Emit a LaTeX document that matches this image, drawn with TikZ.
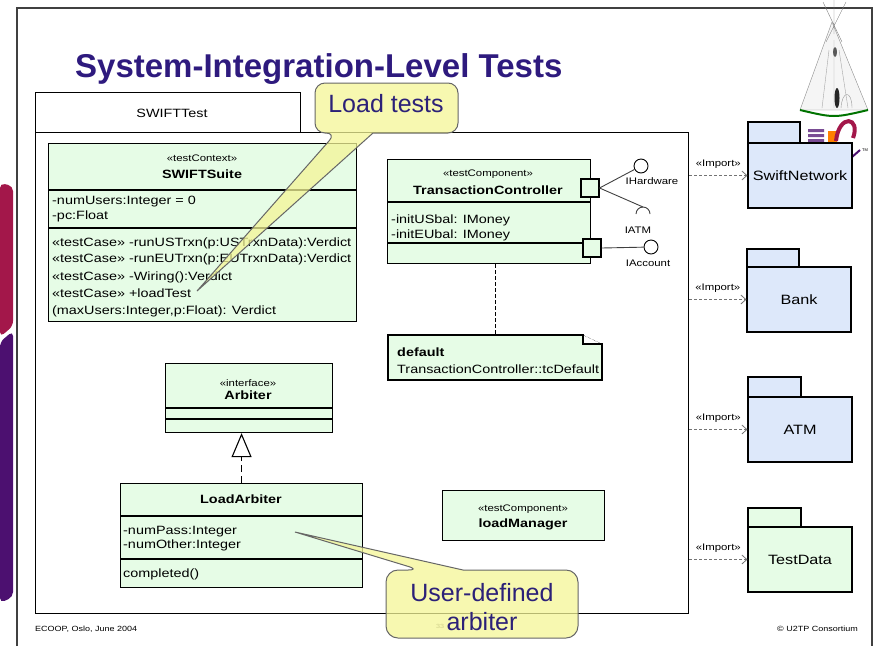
\documentclass[tikz,border=0pt]{standalone}
\usepackage{fontspec}
\setmainfont{Liberation Sans}
\newfontfamily\umlfont[FakeStretch=1.2]{Liberation Sans}
\usepackage{tikz}
\usetikzlibrary{positioning, calc, arrows.meta}

\definecolor{titleblue}{HTML}{2E1A7E}
\definecolor{classgreen}{HTML}{E6FCE6}
\definecolor{pkgblue}{HTML}{DDE8FA}
\definecolor{noteyellow}{HTML}{F4F596}
\definecolor{calloutink}{HTML}{2C2178}
\definecolor{logored}{HTML}{A3174A}
\definecolor{logopurple}{HTML}{4C1070}

\tikzset{
  umlbox/.style={draw, line width=1.1pt, fill=classgreen, inner sep=0pt, anchor=north west},
  umltext/.style={font=\umlfont\fontsize{12}{14}\selectfont, inner sep=0pt},
  umlbold/.style={font=\umlfont\bfseries\fontsize{12}{14}\selectfont, inner sep=0pt},
  stereo/.style={font=\umlfont\fontsize{9.5}{11}\selectfont, inner sep=0pt},
  pkgbox/.style={draw, line width=1.1pt, minimum width=104, minimum height=65, inner sep=0pt,
    font=\umlfont\fontsize{13.5}{15}\selectfont},
  import/.style={densely dashed, draw=black!55, line width=0.8pt, -{Straight Barb[length=5pt,width=9pt]}},
  callout/.style={draw=black!60, line width=1pt, fill=noteyellow, fill opacity=0.75},
  bigtext/.style={text=calloutink, font=\fontsize{25}{28}\selectfont, inner sep=0pt},
  portbox/.style={draw, line width=1.1pt, fill=classgreen, minimum size=18, inner sep=0pt},
  iface/.style={circle, draw, line width=0.9pt, fill=white, minimum size=14, inner sep=0pt},
}

\begin{document}
\begin{tikzpicture}[x=1pt, y=-1pt]
  \useasboundingbox (0,0) rectangle (874,646);

  % Side logo strip
  \fill[logored, rounded corners=5] (0,183) -- (13,186) -- (13,326) -- (0,337) -- cycle;
  \fill[logopurple, rounded corners=5] (0,342) -- (13,331) -- (13,597) -- (0,603) -- cycle;

  % Slide frame
  \draw[line width=1.2pt, black!75] (17,646) -- (17,8) -- (872,8) -- (872,646);

  % Title
  \node[anchor=base west, inner sep=0pt, text=titleblue,
    font=\bfseries\fontsize{33}{36}\selectfont] (title) at (75,77) {System-Integration-Level Tests};

  % Teepee
  \filldraw[fill=black!4, draw=black!45] (832,22) -- (800,110) -- (868,110) -- cycle;
  \draw[black!50] (823,2) -- (842,42) (846,2) -- (826,42) (834,0) -- (834,34);
  \draw[black!35] (834,40) -- (834,108) (829,50) -- (822,108) (839,50) -- (848,108);
  \fill[black!65] (835,52) ellipse (2 and 5);
  \fill[black!85] (837,98) ellipse (2.5 and 10);
  \draw[black!40] (841,108) .. controls (842,90) and (852,90) .. (852,108);
  \draw[green!45!black, line width=2pt] (800,110) .. controls (834,118) .. (868,110);

  % U2TP logo
  \fill[logopurple!75] (808,129) rectangle (824,132) (808,134) rectangle (824,137)
    (808,139) rectangle (824,142);
  \fill[orange] (828,131) rectangle (837,143);
  \draw[logored, line width=4pt] (836,141) .. controls (839,113) and (861,117) .. (853,138);
  \draw[logopurple, line width=2pt] (852,157) -- (860,150);
  \node[font=\fontsize{4}{5}\selectfont, inner sep=0pt] (tm) at (865,150) {TM};

  % Test package with its name tab
  \node[draw, line width=1.1pt, anchor=north west, minimum width=265, minimum height=40,
    inner sep=0pt] (tab) at (35,92) {};
  \node[umltext] (tabname) at (172,113) {SWIFTTest};
  \node[draw, line width=1.1pt, anchor=north west, minimum width=653, minimum height=481,
    inner sep=0pt] (swifttest) at (35,132) {};

  % SWIFTSuite
  \node[umlbox, minimum width=308, minimum height=178] (suite) at (48,143) {};
  \draw[line width=1.1pt] (48,190) -- (356,190) (48,228) -- (356,228);
  \node[stereo] (suite-st) at (202,158) {«testContext»};
  \node[umlbold] (suite-name) at (202,174) {SWIFTSuite};
  \node[umltext, anchor=base west] (suite-a1) at (52,204) {-numUsers:Integer = 0};
  \node[umltext, anchor=base west] (suite-a2) at (52,219) {-pc:Float};
  \node[umltext, anchor=base west] (suite-o1) at (52,246) {«testCase» -runUSTrxn(p:USTrxnData):Verdict};
  \node[umltext, anchor=base west] (suite-o2) at (52,262) {«testCase» -runEUTrxn(p:EUTrxnData):Verdict};
  \node[umltext, anchor=base west] (suite-o3) at (52,280) {«testCase» -Wiring():Verdict};
  \node[umltext, anchor=base west] (suite-o4) at (52,297) {«testCase» +loadTest};
  \node[umltext, anchor=base west] (suite-o5) at (52,314) {(maxUsers:Integer,p:Float): Verdict};

  % TransactionController with its ports
  \node[umlbox, minimum width=203, minimum height=104] (tc) at (387,159) {};
  \draw[line width=1.1pt] (387,202) -- (590,202) (387,243) -- (590,243);
  \node[stereo] (tc-st) at (488,174) {«testComponent»};
  \node[umlbold] (tc-name) at (488,190) {TransactionController};
  \node[umltext, anchor=base west] (tc-a1) at (391,223) {-initUSbal: IMoney};
  \node[umltext, anchor=base west] (tc-a2) at (391,238) {-initEUbal: IMoney};
  \node[portbox] (hwport) at (590,188) {};
  \node[portbox] (acport) at (592,248) {};

  % Provided and required interfaces
  \node[iface] (ihw) at (641,166) {};
  \node[iface] (iacc) at (651,247) {};
  \coordinate (iatm) at (643,207);
  \draw[line width=0.9pt, black!75] (hwport.east) -- (ihw);
  \draw[line width=0.9pt, black!75] (hwport.east) -- (iatm);
  \draw[line width=0.9pt, black!75] (iatm) ++(-7,7) arc[start angle=180, end angle=360, radius=7];
  \draw[line width=0.9pt, black!75] (acport.east) -- (iacc);
  \node[stereo] (ihw-l) at (652,181) {IHardware};
  \node[stereo] (iatm-l) at (638,230) {IATM};
  \node[stereo] (iacc-l) at (648,263) {IAccount};

  % Default note
  \node[anchor=north west, minimum width=214, minimum height=45, inner sep=0pt] (note) at (388,335) {};
  \draw[line width=1.1pt, fill=classgreen] (388,335) -- (583,335) -- (583,344) -- (602,344)
    -- (602,380) -- (388,380) -- cycle;
  \draw[densely dotted] (583,335) -- (602,344);
  \node[umlbold, anchor=base west] (note-1) at (397,356) {default};
  \node[umltext, anchor=base west] (note-2) at (397,373) {TransactionController::tcDefault};
  \draw[line width=1.1pt, dash pattern=on 4pt off 2pt] (note.north |- tc.south) -- (note.north);

  % Arbiter interface
  \node[umlbox, minimum width=167, minimum height=69] (arbiter) at (165,363) {};
  \draw[line width=1.1pt] (165,408) -- (332,408) (165,419) -- (332,419);
  \node[stereo] (arb-st) at (248,383) {«interface»};
  \node[umlbold] (arb-name) at (248,395) {Arbiter};

  % LoadArbiter
  \node[umlbox, minimum width=242, minimum height=104] (loadarb) at (120,483) {};
  \draw[line width=1.1pt] (120,516) -- (362,516) (120,559) -- (362,559);
  \node[umlbold] (la-name) at (241,499) {LoadArbiter};
  \node[umltext, anchor=base west] (la-a1) at (123,534) {-numPass:Integer};
  \node[umltext, anchor=base west] (la-a2) at (123,548) {-numOther:Integer};
  \node[umltext, anchor=base west] (la-o1) at (123,577) {completed()};
  \draw[line width=1.1pt, dash pattern=on 7pt off 4pt,
    -{Triangle[open, length=24pt, width=20pt, fill=white]}] (loadarb.north) -- (loadarb.north |- arbiter.south);

  % loadManager
  \node[umlbox, minimum width=162, minimum height=50] (loadmgr) at (442,490) {};
  \node[stereo] (lm-st) at (523,509) {«testComponent»};
  \node[umlbold] (lm-name) at (523,524) {loadManager};

  % Imported packages
  \draw[line width=1.1pt, fill=pkgblue] (748,122) rectangle (800,143);
  \node[pkgbox, fill=pkgblue] (swiftnet) at (800,175.5) {SwiftNetwork};
  \draw[line width=1.1pt, fill=pkgblue] (747,249) rectangle (799,267);
  \node[pkgbox, fill=pkgblue] (bank) at (799,299.5) {Bank};
  \draw[line width=1.1pt, fill=pkgblue] (748,377) rectangle (801,397);
  \node[pkgbox, fill=pkgblue] (atm) at (800,429.5) {ATM};
  \draw[line width=1.1pt, fill=classgreen] (748,508) rectangle (801,527);
  \node[pkgbox, fill=classgreen] (testdata) at (800,559.5) {TestData};

  \draw[import] (swifttest.east |- swiftnet.west) -- (swiftnet.west)
    node[midway, above=7pt, stereo] {«Import»};
  \draw[import] (swifttest.east |- bank.west) -- (bank.west)
    node[midway, above=7pt, stereo] {«Import»};
  \draw[import] (swifttest.east |- atm.west) -- (atm.west)
    node[midway, above=7pt, stereo] {«Import»};
  \draw[import] (swifttest.east |- testdata.west) -- (testdata.west)
    node[midway, above=7pt, stereo] {«Import»};

  % Footer
  \node[anchor=base west, inner sep=0pt, font=\umlfont\fontsize{7.5}{9}\selectfont] (event) at (35,631) {ECOOP, Oslo, June 2004};
  \node[anchor=base east, inner sep=0pt, font=\umlfont\fontsize{7.5}{9}\selectfont] (owner) at (858,631) {© U2TP Consortium};
  \node[inner sep=0pt, text=black!60, font=\umlfont\fontsize{6}{7}\selectfont] (slideno) at (440,626) {33};

  % Callouts
  \draw[callout] (386,83) [rounded corners=10] -- (315,83) -- (315,133) -- (336,133)
    [sharp corners] -- (197,291) -- (373,133) [rounded corners=10] -- (458,133) -- (458,83) -- cycle;
  \node[bigtext] (loadtests) at (386,104) {Load tests};
  \draw[callout] (500,570) [rounded corners=12] -- (578,570) -- (578,638) -- (386,638) -- (386,570)
    -- (420,570) [sharp corners] -- (295,532) -- (463,570) -- cycle;
  \node[bigtext] (userdef) at (482,593) {User-defined};
  \node[bigtext] (arbword) at (482,622) {arbiter};
\end{tikzpicture}
\end{document}
